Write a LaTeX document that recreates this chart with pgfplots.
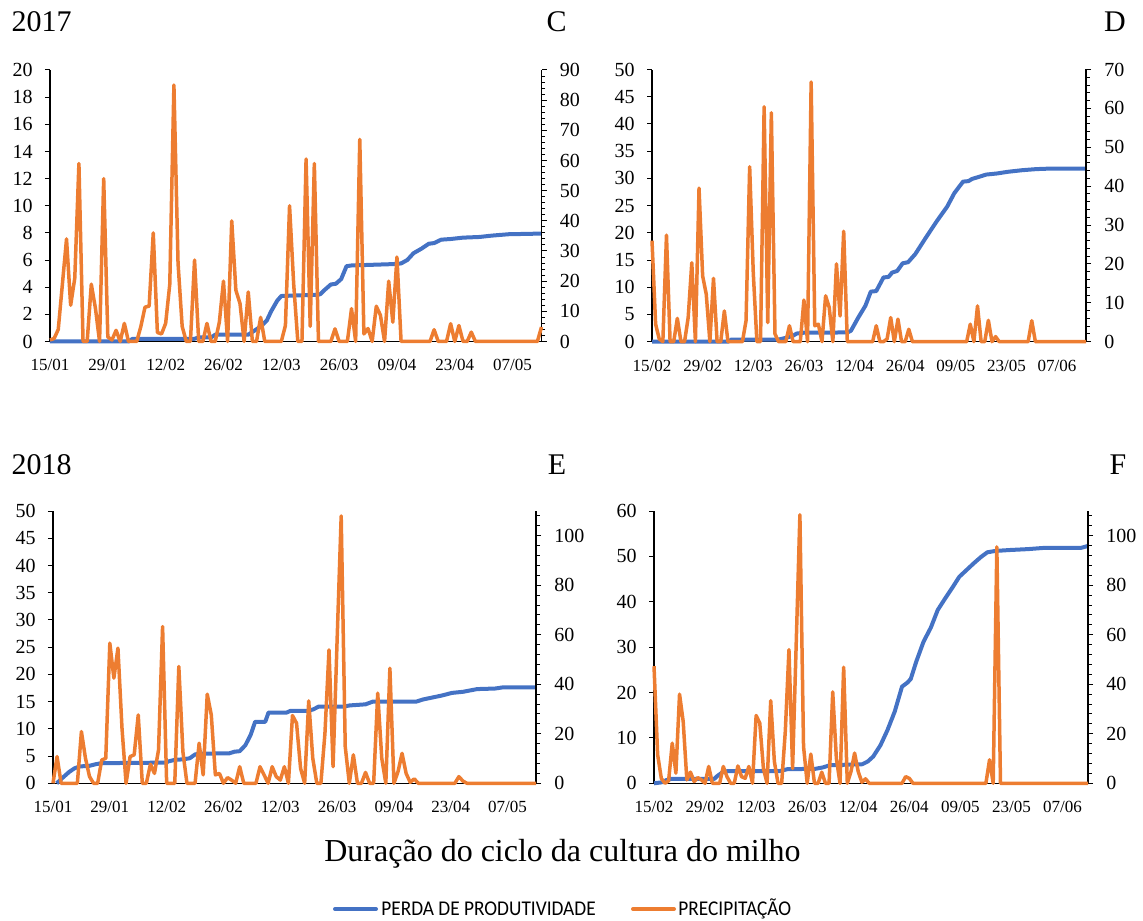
\documentclass[border=0pt]{standalone}
\usepackage{fontspec}
\setmainfont{Liberation Serif}
\newfontfamily\legfont{Carlito}
\usepackage{pgfplots}
\pgfplotsset{compat=1.18}
\definecolor{perda}{HTML}{4472C4}
\definecolor{chuva}{HTML}{ED7D31}

\pgfplotsset{
  painel/.style={scale only axis, anchor=south west, xmin=0, xmax=119, ymin=0,
    clip=false, tick align=outside,
    axis line style={line width=0.6pt, -},
    tick style={black, line width=0.5pt},
    major tick length=2.5pt, minor tick length=1.8pt,
    /pgf/number format/assume math mode=true,
    yticklabel style={font=\fontsize{10}{12}\selectfont},
    xticklabel style={font=\fontsize{8.5}{10}\selectfont, yshift=-3pt},
  },
  esq/.style={painel, axis y line*=left, axis x line*=bottom,
    xtick={0,14,...,112}, xtick style={draw=none},
    yticklabel style={xshift=-2.6pt}},
  dir/.style={painel, axis y line*=right, axis x line=none,
    yticklabel style={xshift=3.2pt}},
  perda/.style={color=perda, line width=2pt, line join=round, mark=none},
  chuva/.style={color=chuva, line width=1.75pt, line join=round, mark=none},
}

\begin{document}
\begin{tikzpicture}
\path[use as bounding box] (0,0) rectangle (571.5pt,460pt);

% ---------- C (2017) ----------
\begin{axis}[esq, at={(25pt,289.25pt)}, width=245.75pt, height=135.75pt,
  ymax=20, ytick={0,2,...,20},
  xticklabels={15/01,29/01,12/02,26/02,12/03,26/03,09/04,23/04,07/05}]
\addplot[perda] coordinates {(0,0)(19,0)(20,0.2)(35,0.2)(36,0.3)(39,0.3)(40,0.5)(48,0.5)(49,0.7)(51,1.1)(52.5,1.55)(53.5,2.2)(55,3.0)(56,3.35)(65,3.45)(65.5,3.5)(66.5,3.8)(68,4.2)(69.2,4.25)(70.5,4.6)(71.8,5.55)(73,5.6)(83,5.7)(85,5.75)(86.5,6.0)(88,6.5)(90,6.85)(91.7,7.2)(93,7.25)(94.7,7.5)(97,7.55)(100,7.65)(104,7.7)(107,7.8)(111,7.9)(119,7.95)};
\end{axis}
\begin{axis}[dir, at={(25pt,289.25pt)}, width=245.75pt, height=135.75pt,
  ymax=90, ytick={0,10,...,90}, minor ytick={2,4,...,88}]
\addplot[chuva] coordinates {(0,0.5)(1,1)(2,4)(3,19)(4,34)(5,12)(6,21)(7,59)(8,0)(9,0)(10,19)(11,11)(12,0)(13,54)(14,1.5)(15,0.5)(16,3.7)(17,0)(18,6)(19,0)(21,0)(22,5)(23,11.4)(24,11.7)(25,36)(26,3)(27,2.5)(28,6)(29,19)(30,85)(31,26)(32,5)(33,0)(34,0)(35,27)(36,0)(37,0)(38,6)(39,0)(40,0)(41,6.4)(42,20)(43,0)(44,40)(45,17)(46,12.6)(47,0)(48,16.4)(49,0)(50,0)(51,8)(52,0)(56,0)(57,5.3)(58,45)(59,19)(60,0)(61,0)(62,60.5)(63,5)(64,59)(65,0)(68,0)(69,4.2)(70,0)(72,0)(73,10.9)(74,0)(75,67)(76,2.5)(77,4.3)(78,0)(79,11.7)(80,8.7)(81,0)(82,20)(83,6.4)(84,28)(85,0)(92,0)(93,3.9)(94,0)(96,0)(97,5.9)(98,0)(99,5.3)(100,0)(101,0)(102,3.1)(103,0)(118,0)(119,4.8)};
\end{axis}

% ---------- D ----------
\begin{axis}[esq, at={(326pt,289.15pt)}, width=217pt, height=136.1pt, xmax=120,
  ymax=50, ytick={0,5,...,50},
  xticklabels={15/02,29/02,12/03,26/03,12/04,26/04,09/05,23/05,07/06}]
\addplot[perda] coordinates {(0,0)(21,0)(22,0.4)(35,0.4)(37,0.7)(39,1.1)(40,1.5)(42,1.65)(54,1.7)(55,2.0)(57,4.4)(59,6.6)(60.5,9.2)(62,9.3)(64,11.8)(65.4,11.9)(66.4,12.7)(67.8,13)(69.3,14.4)(70.8,14.6)(72.8,16.1)(75.7,19.1)(78.7,22.1)(81.6,24.8)(83.6,27.3)(86,29.4)(87.5,29.5)(88.5,29.9)(90.5,30.3)(92.4,30.7)(95.4,30.9)(98.3,31.2)(102.3,31.5)(106.2,31.7)(110.1,31.8)(120,31.8)};
\end{axis}
\begin{axis}[dir, at={(326pt,289.15pt)}, width=217pt, height=136.1pt, xmax=120,
  ymax=70, ytick={0,10,...,70}, minor ytick={2,4,...,68}]
\addplot[chuva] coordinates {(0,26)(1,4.5)(2,0.7)(3,0)(4,27.4)(5,0)(6,0)(7,6)(8,0)(9,0)(10,6.2)(11,20.3)(12,0)(13,39.5)(14,16.9)(15,12.2)(16,0)(17,16.3)(18,0)(19,0)(20,7.9)(21,0)(25,0)(26,5.4)(27,45)(28,17.7)(29,0)(30,0)(31,60.4)(32,4.9)(33,58.9)(34,2)(35,0)(37,0)(38,4.1)(39,0)(41,0)(42,10.7)(43,0)(44,66.8)(45,4.1)(46,4.5)(47,0)(48,11.8)(49,8.8)(50,0)(51,20)(52,6.6)(53,28.4)(54,0)(61,0)(62,4.1)(63,0)(64,0)(65,0.7)(66,6.2)(67,0)(68,5.8)(69,0)(70,0)(71,3.2)(72,0)(87,0)(88,4.5)(89,0)(90,9.2)(91,0)(92,0)(93,5.5)(94,0)(95,1.3)(96,0)(104,0)(105,5.4)(106,0)(120,0)};
\end{axis}

% ---------- E (2018) ----------
\begin{axis}[esq, at={(26.5pt,68.35pt)}, width=241.5pt, height=136.15pt,
  ymax=50, ytick={0,5,...,50},
  xticklabels={15/01,29/01,12/02,26/02,12/03,26/03,09/04,23/04,07/05}]
\addplot[perda] coordinates {(0.9,0)(2.2,0.9)(4,2.1)(5.3,2.75)(6.6,3.1)(8.9,3.2)(10.5,3.5)(12,3.7)(28,3.8)(28.3,4.0)(30,4.3)(32,4.4)(33.7,4.6)(35,5.3)(36,5.45)(43.4,5.5)(44.7,5.8)(46,5.9)(47.4,7)(48.7,8.9)(49.8,11.3)(52.3,11.3)(53.1,13)(57.6,13)(58.5,13.3)(62.9,13.3)(64.2,13.6)(65.5,14.1)(71.7,14.1)(73.1,14.3)(77,14.5)(78.8,15)(89.5,15)(91.2,15.4)(95.7,16.1)(98.3,16.6)(101,16.8)(104.5,17.3)(108.9,17.4)(110.7,17.6)(119,17.6)};
\end{axis}
\begin{axis}[dir, at={(26.5pt,68.35pt)}, width=241.5pt, height=136.15pt,
  ymax=110, ytick={0,20,...,100}, minor ytick={4,8,...,108}]
\addplot[chuva] coordinates {(0,0)(1,10.8)(2,0)(6,0)(7,20.9)(8,10.1)(9,2.7)(10,0)(11,0)(12,9.4)(13,10.1)(14,56.6)(15,42.5)(16,54.6)(17,22.2)(18,0)(19,10.8)(20,11.5)(21,27.6)(22,0)(23,0)(24,7.7)(25,4)(26,13.5)(27,63.3)(28,0)(30,0)(31,47.2)(32,12.8)(33,0)(35,0)(36,16.2)(37,3.4)(38,36)(39,27.6)(40,3.4)(41,4)(42,0)(43,2.3)(44,1.3)(45,0)(46,6.7)(47,0)(50,0)(51,6.7)(52,3.4)(53,0)(54,6.7)(55,2.7)(56,1.3)(57,6.7)(58,0)(59,27.4)(60,24.3)(61,6)(62,0)(63,33.3)(64,10.1)(65,0)(66,0)(67,20.2)(68,53.9)(69,6.7)(70,58)(71,108)(72,14.8)(73,0)(74,11.5)(75,0)(76,0)(77,4.4)(78,0)(79,0)(80,36.4)(81,10.1)(82,0)(83,46.5)(84,0)(85,4.7)(86,12.1)(87,4)(88,0.4)(89,1.8)(90,0)(99,0)(100,2.7)(101,0.9)(102,0)(119,0)};
\end{axis}

% ---------- F ----------
\begin{axis}[esq, at={(327pt,68.35pt)}, width=217pt, height=136.15pt,
  ymax=60, ytick={0,10,...,60},
  xticklabels={15/02,29/02,12/03,26/03,12/04,26/04,09/05,23/05,07/06}]
\addplot[perda] coordinates {(0,0)(2,0.2)(3.4,0.7)(4.9,1)(16.6,1)(17.2,1.5)(18.7,2.4)(20.2,2.7)(34.5,2.7)(36.5,3.1)(44.3,3.2)(46.3,3.5)(48.3,4)(57.1,4.2)(58.6,4.8)(60.1,5.9)(62.1,8.4)(64,11.7)(66,15.8)(68,21.3)(69.5,22.2)(70.4,23)(71.9,26.8)(73.9,31.2)(75.9,34.3)(77.8,38.2)(79.8,40.7)(81.8,43.1)(83.7,45.5)(85.7,47)(87.7,48.5)(89.7,49.9)(91.4,50.9)(93.6,51.2)(97.5,51.4)(102.5,51.6)(107.4,51.9)(117.2,51.9)(119,52.3)};
\end{axis}
\begin{axis}[dir, at={(327pt,68.35pt)}, width=217pt, height=136.15pt,
  ymax=110, ytick={0,20,...,100}, minor ytick={4,8,...,108}]
\addplot[chuva] coordinates {(0,47.3)(1,11.5)(2,2)(3,0)(4,1)(5,16.2)(6,4.1)(7,36)(8,25)(9,1.4)(10,4.5)(11,0.7)(12,2.3)(13,1.4)(14,0)(15,6.8)(16,0)(18,0)(19,6.8)(20,2.7)(21,0)(22,0)(23,7)(24,2.7)(25,2)(26,6.8)(27,0)(28,27.4)(29,24.3)(30,6)(31,0)(32,33.4)(33,8.8)(34,0)(35,0)(36,21)(37,54)(38,6)(39,57)(40,108.5)(41,14.9)(42,0)(43,11.8)(44,0)(45,0)(46,4.5)(47,0)(48,0)(49,36.9)(50,10.1)(51,0)(52,46.9)(53,0)(54,4.7)(55,12.2)(56,4.7)(57,0.4)(58,1.8)(59,0)(68,0)(69,2.7)(70,2)(71,0)(91,0)(92,9.5)(93,0)(94,95.5)(95,0)(119,0)};
\end{axis}

% ---------- textos ----------
\node[inner sep=0, font=\fontsize{15}{18}\selectfont] at (20.75pt,449pt) {2017};
\node[inner sep=0, font=\fontsize{15}{18}\selectfont] at (278.25pt,449pt) {C};
\node[inner sep=0, font=\fontsize{15}{18}\selectfont] at (557.5pt,449pt) {D};
\node[inner sep=0, font=\fontsize{15}{18}\selectfont] at (20.75pt,227.5pt) {2018};
\node[inner sep=0, font=\fontsize{15}{18}\selectfont] at (278.5pt,227.5pt) {E};
\node[inner sep=0, font=\fontsize{15}{18}\selectfont] at (559pt,227.5pt) {F};
\node[inner sep=0, font=\fontsize{16}{19}\selectfont] at (281.25pt,33pt) {Duração do ciclo da cultura do milho};

% legenda
\draw[perda, line width=2pt, line cap=round] (167.5pt,5.5pt) -- (188pt,5.5pt);
\node[anchor=west, inner sep=0] at (190.5pt,5.5pt) {\scalebox{0.92}[1]{\legfont\fontsize{10.5}{12}\selectfont PERDA DE PRODUTIVIDADE}};
\draw[chuva, line width=2pt, line cap=round] (316.5pt,5.5pt) -- (337pt,5.5pt);
\node[anchor=west, inner sep=0] at (339pt,5.5pt) {\scalebox{0.92}[1]{\legfont\fontsize{10.5}{12}\selectfont PRECIPITAÇÃO}};
\end{tikzpicture}
\end{document}
